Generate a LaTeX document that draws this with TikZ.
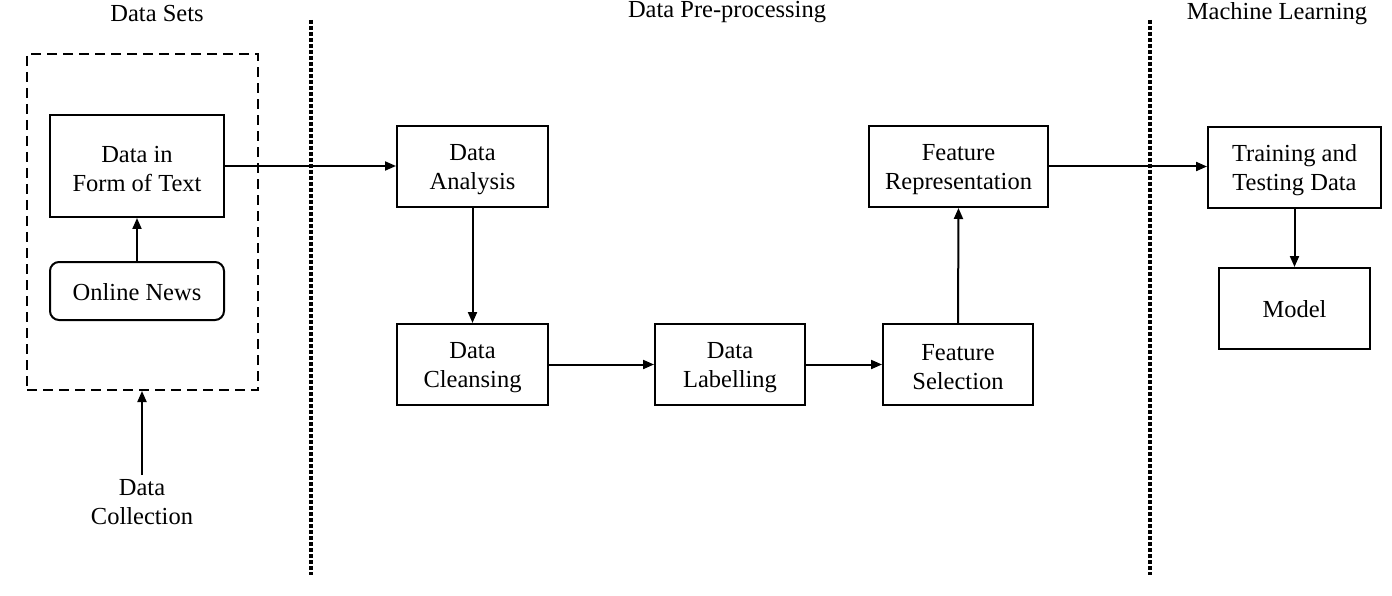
\documentclass[tikz,border=0pt]{standalone}
\usepackage{fontspec}
\setmainfont{Liberation Serif}
\usetikzlibrary{arrows.meta}
\begin{document}
\begin{tikzpicture}[x=1pt,y=-1pt,
  font=\fontsize{24.5}{29}\selectfont,
  box/.style={draw,line width=2pt,align=center,inner sep=0pt},
  rbox/.style={box,rounded corners=9pt},
  txt/.style={label={[lbl,yshift=-3pt]center:#1}},
  txtone/.style={label={[lbl,yshift=-1pt]center:#1}},
  dashbox/.style={draw,line width=2pt,dash pattern=on 10pt off 6pt,inner sep=0pt},
  sep/.style={line width=4.5pt,dash pattern=on 4pt off 2pt},
  arr/.style={line width=2pt,-{Triangle[length=11pt,width=9pt]}},
  lbl/.style={align=center,inner sep=0pt}]
\useasboundingbox (0,0) rectangle (1392,596);
% dashed group
\node[dashbox,minimum width=231pt,minimum height=336pt] (ds) at (142.5,222) {};
\node[box,minimum width=174pt,minimum height=102pt,txt={Data in\\Form of Text}] (dt) at (137,166) {};
\node[rbox,minimum width=174pt,minimum height=58pt,txtone={Online News}] (on) at (137,291) {};
\node[lbl] (dc) at (142,502) {Data\\Collection};
% headings
\node[lbl] (h1) at (157,14) {Data Sets};
\node[lbl] (h2) at (727,12) {Data Pre-processing};
\node[lbl] (h3) at (1277,14) {Machine Learning};
% separators
\coordinate (s1a) at (311,20); \coordinate (s1b) at (311,575);
\coordinate (s2a) at (1150,20); \coordinate (s2b) at (1150,575);
\draw[sep] (s1a) -- (s1b);
\draw[sep] (s2a) -- (s2b);
% process boxes
\node[box,minimum width=151pt,minimum height=81pt,txt={Data\\Analysis}] (da) at (472.5,166.5) {};
\node[box,minimum width=151pt,minimum height=81pt,txt={Data\\Cleansing}] (cl) at (472.5,364.5) {};
\node[box,minimum width=150pt,minimum height=81pt,txt={Data\\Labelling}] (la) at (730,364.5) {};
\node[box,minimum width=150pt,minimum height=81pt,txt={Feature\\Selection}] (fs) at (958,364.5) {};
\node[box,minimum width=179pt,minimum height=81pt,txt={Feature\\Representation}] (fr) at (958.5,166.5) {};
\node[box,minimum width=173pt,minimum height=81pt,txt={Training and\\Testing Data}] (tt) at (1294.5,167.5) {};
\node[box,minimum width=151pt,minimum height=81pt,txtone={Model}] (mo) at (1294.5,308.5) {};
% connectors
\coordinate (dcc) at ([yshift=4pt]dc.north);
\draw[arr] (on.north) -- (dt.south);
\draw[arr] (dcc) -- (dcc |- ds.south);
\draw[arr] (dt.east) -- (dt.east -| da.west);
\draw[arr] (da.south) -- (cl.north);
\draw[arr] (cl.east) -- (la.west);
\draw[arr] (la.east) -- (fs.west);
\draw[arr] (fs.north) -- (fr.south);
\draw[arr] (fr.east) -- (fr.east -| tt.west);
\draw[arr] (tt.south) -- (mo.north);
\end{tikzpicture}
\end{document}
